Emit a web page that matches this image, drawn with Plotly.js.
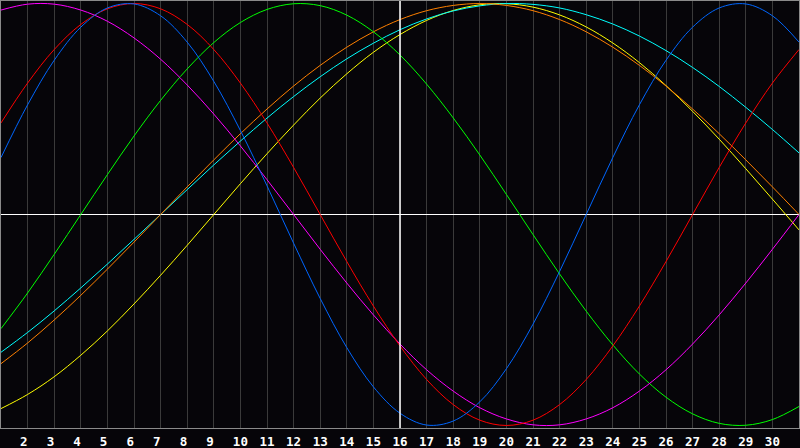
<!DOCTYPE html>
<html>
<head>
<meta charset="utf-8">
<script src="https://cdn.plot.ly/plotly-3.0.1.min.js"></script>
<style>
  html, body { margin: 0; padding: 0; background: #060509; }
  #chart { width: 800px; height: 448px; }
</style>
</head>
<body>
<div id="chart"></div>
<script>
// days of the month shown
var days = [];
for (var d = 1; d <= 31; d++) days.push(d);

var tickDays = [2,3,4,5,6,7,8,9,10,11,12,13,14,15,16,17,18,19,20,21,22,23,24,25,26,27,28,29,30];
var todayDay = 16;

// curve values, one per day (-1 .. 1)
var blueVals = [0.270,0.520,0.731,0.888,0.979,0.998,0.942,0.817,0.631,0.398,0.136,-0.136,-0.398,-0.631,-0.817,-0.942,-0.998,-0.979,-0.888,-0.731,-0.520,-0.270,0.000,0.270,0.520,0.731,0.888,0.979,0.998,0.942,0.817];
var redVals = [0.434,0.623,0.782,0.901,0.975,1.000,0.975,0.901,0.782,0.623,0.434,0.223,0.000,-0.223,-0.434,-0.623,-0.782,-0.901,-0.975,-1.000,-0.975,-0.901,-0.782,-0.623,-0.434,-0.223,0.000,0.223,0.434,0.623,0.782];
var greenVals = [-0.541,-0.372,-0.189,0.000,0.189,0.372,0.541,0.690,0.815,0.910,0.972,0.999,0.990,0.945,0.866,0.756,0.618,0.458,0.282,0.095,-0.095,-0.282,-0.458,-0.618,-0.756,-0.866,-0.945,-0.990,-0.999,-0.972,-0.910];
var magentaVals = [0.969,0.997,0.997,0.969,0.916,0.837,0.736,0.614,0.476,0.325,0.165,0.000,-0.165,-0.325,-0.476,-0.614,-0.736,-0.837,-0.916,-0.969,-0.997,-0.997,-0.969,-0.916,-0.837,-0.736,-0.614,-0.476,-0.325,-0.165,0.000];
var orangeVals = [-0.707,-0.609,-0.500,-0.383,-0.259,-0.131,0.000,0.131,0.259,0.383,0.500,0.609,0.707,0.793,0.866,0.924,0.966,0.991,1.000,0.991,0.966,0.924,0.866,0.793,0.707,0.609,0.500,0.383,0.259,0.131,0.000];
var cyanVals = [-0.653,-0.559,-0.457,-0.348,-0.235,-0.118,0.000,0.118,0.235,0.348,0.457,0.559,0.653,0.738,0.812,0.876,0.927,0.965,0.989,1.000,0.996,0.979,0.947,0.903,0.846,0.777,0.697,0.607,0.508,0.403,0.292];
var yellowVals = [-0.920,-0.853,-0.769,-0.667,-0.552,-0.424,-0.288,-0.146,0.000,0.146,0.288,0.424,0.552,0.667,0.769,0.853,0.920,0.967,0.994,0.999,0.983,0.946,0.889,0.813,0.720,0.611,0.489,0.357,0.217,0.073,-0.073];

var seriesList = [
    {y: yellowVals, color: '#ffff00'},
    {y: cyanVals, color: '#00ffff'},
    {y: orangeVals, color: '#ff8000'},
    {y: greenVals, color: '#00ff00'},
    {y: magentaVals, color: '#ff00ff'},
    {y: redVals, color: '#ff0000'},
    {y: blueVals, color: '#0066ff'}
];

var traces = [];
for (var i = 0; i < seriesList.length; i++) {
    traces.push({
        x: days,
        y: seriesList[i].y,
        mode: 'lines',
        line: {color: seriesList[i].color, width: 1, shape: 'spline', smoothing: 1},
        hoverinfo: 'skip'
    });
}

// single digits get a trailing space so they sit left like the original
var tickText = tickDays.map(function (v) { return v < 10 ? v + '\u00a0' : String(v); });

var layout = {
    width: 800,
    height: 448,
    margin: {l: 1, r: 1, t: 1, b: 20},
    paper_bgcolor: '#060509',
    plot_bgcolor: '#060509',
    showlegend: false,
    xaxis: {
        range: [1, 31],
        tickmode: 'array',
        tickvals: tickDays,
        ticktext: tickText,
        ticks: '',
        showgrid: true,
        gridcolor: '#3a3a3a',
        gridwidth: 1,
        zeroline: false,
        showline: true,
        linecolor: '#8a8a8a',
        linewidth: 1,
        mirror: true,
        ticklabelstandoff: 2,
        tickfont: {family: 'DejaVu Sans Mono', size: 12.5, color: '#ffffff', weight: 'bold'}
    },
    yaxis: {
        range: [-1.012, 1.012],
        showgrid: false,
        showticklabels: false,
        ticks: '',
        zeroline: true,
        zerolinecolor: '#ffffff',
        zerolinewidth: 1.5,
        showline: true,
        linecolor: '#8a8a8a',
        linewidth: 1,
        mirror: true
    },
    shapes: [{
        type: 'line',
        xref: 'x', yref: 'paper',
        x0: todayDay, x1: todayDay, y0: 0, y1: 1,
        line: {color: '#ffffff', width: 1.5}
    }]
};

Plotly.newPlot('chart', traces, layout, {staticPlot: true, displayModeBar: false});
</script>
</body>
</html>
